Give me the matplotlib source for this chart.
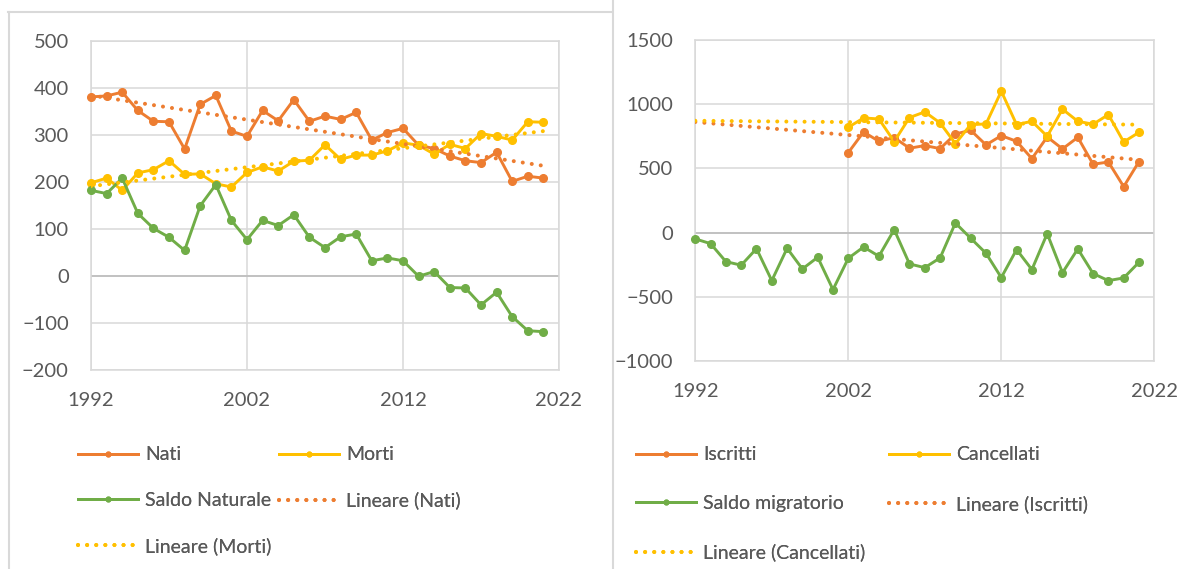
import numpy as np
import matplotlib
matplotlib.use("Agg")
import matplotlib.pyplot as plt
from matplotlib.lines import Line2D

plt.rcParams['font.family'] = ['Lato', 'DejaVu Sans']

# years shown on both charts
years = list(range(1992, 2022))
years_mig = list(range(2002, 2022))

# left chart: natural movement
nati = [381, 383, 391, 352, 329, 328, 270, 365, 384, 308, 297, 352, 330, 375, 329,
        340, 333, 348, 289, 305, 314, 278, 271, 255, 245, 241, 263, 201, 212, 208]
morti = [198, 208, 182, 219, 226, 245, 216, 217, 196, 189, 220, 232, 223, 244, 246,
         279, 248, 257, 257, 266, 283, 278, 259, 280, 271, 303, 297, 289, 328, 327]
saldo_naturale = [182, 175, 208, 133, 101, 82, 54, 149, 194, 118, 77, 118, 107, 130, 82,
                  60, 83, 89, 32, 38, 32, -1, 9, -25, -26, -62, -35, -87, -117, -119]

# right chart: migration
saldo_migratorio = [-49, -86, -226, -254, -125, -374, -122, -283, -192, -444, -200, -112,
                    -184, 23, -244, -273, -197, 75, -44, -161, -350, -132, -288, -8,
                    -312, -127, -319, -374, -353, -231]
iscritti = [623, 784, 711, 740, 657, 678, 654, 768, 797, 683,
            755, 711, 576, 745, 652, 742, 532, 550, 358, 553]
cancellati = [820, 893, 885, 709, 896, 940, 854, 693, 841, 846,
              1101, 841, 867, 750, 961, 867, 844, 919, 706, 781]

ORANGE, YELLOW, GREEN = '#ED7D31', '#FFC000', '#70AD47'
GRID, TXT = '#d9d9d9', '#595959'
FS = 14.5
LEG_FS = 14

W, H = 1188, 569
fig = plt.figure(figsize=(W / 100, H / 100), dpi=100)


def px_axes(x0, x1, ytop, ybot):
    return fig.add_axes([x0 / W, 1 - ybot / H, (x1 - x0) / W, (ybot - ytop) / H])


def trend(xs, ys, xeval):
    k, b = np.polyfit(xs, ys, 1)
    return np.polyval([k, b], xeval)


def style(ax, ylim, ystep):
    ax.set_xlim(1992, 2022)
    ax.set_xticks([1992, 2002, 2012, 2022])
    ax.set_ylim(*ylim)
    ax.set_yticks(np.arange(ylim[0], ylim[1] + 1, ystep))
    ax.grid(True, color=GRID, lw=1.1)
    ax.set_axisbelow(True)
    ax.axhline(0, color='#bfbfbf', lw=1.3, zorder=1)
    for s in ax.spines.values():
        s.set_color(GRID)
        s.set_linewidth(1.1)
    ax.tick_params(length=0, pad=16, labelsize=FS, labelcolor=TXT)


def series(ax, x, y, color, label):
    return ax.plot(x, y, color=color, lw=2.1, marker='o', ms=5.5, label=label,
                   clip_on=False, zorder=3)[0]


def dotted(ax, x, y, color, label):
    return ax.plot(x, y, color=color, lw=2.9, ls=(0, (0.01, 2.25)),
                   dash_capstyle='round', label=label, zorder=4)[0]


def legend_cols(cols, xs, ytop, spacing):
    for handles, x in zip(cols, xs):
        lg = fig.legend(handles=handles, loc='upper left',
                        bbox_to_anchor=(x / W, 1 - ytop / H),
                        frameon=False, fontsize=LEG_FS, labelcolor=TXT,
                        handlelength=3.1, handletextpad=0.35,
                        labelspacing=spacing, borderpad=0, borderaxespad=0,
                        markerscale=0.6)
        fig.add_artist(lg)


# left panel
ax1 = px_axes(91, 559, 41, 369.7)
style(ax1, (-200, 500), 100)
h_nati = series(ax1, years, nati, ORANGE, 'Nati')
h_morti = series(ax1, years, morti, YELLOW, 'Morti')
h_saldo = series(ax1, years, saldo_naturale, GREEN, 'Saldo Naturale')
h_tn = dotted(ax1, years, trend(years, nati, years), ORANGE, 'Lineare (Nati)')
h_tm = dotted(ax1, years, trend(years, morti, years), YELLOW, 'Lineare (Morti)')
legend_cols([[h_nati, h_saldo, h_tm], [h_morti, h_tn]], [78, 279], 446.5, 1.45)

# right panel
ax2 = px_axes(695.3, 1154.3, 40, 361)
style(ax2, (-1000, 1500), 500)
h_isc = series(ax2, years_mig, iscritti, ORANGE, 'Iscritti')
h_can = series(ax2, years_mig, cancellati, YELLOW, 'Cancellati')
h_mig = series(ax2, years, saldo_migratorio, GREEN, 'Saldo migratorio')
h_ti = dotted(ax2, years, trend(years_mig, iscritti, years), ORANGE, 'Lineare (Iscritti)')
h_tc = dotted(ax2, years, trend(years_mig, cancellati, years), YELLOW, 'Lineare (Cancellati)')
legend_cols([[h_isc, h_mig, h_tc], [h_can, h_ti]], [636, 889], 446.5, 1.62)

# panel borders
for xs, ys in [([8.5, 8.5], [12, H]), ([8, 612], [12, 12]), ([612.5, 612.5], [0, H])]:
    fig.add_artist(Line2D([x / W for x in xs], [1 - y / H for y in ys],
                          color=GRID, lw=1.5, transform=fig.transFigure))

fig.savefig('out.png', dpi=100)
